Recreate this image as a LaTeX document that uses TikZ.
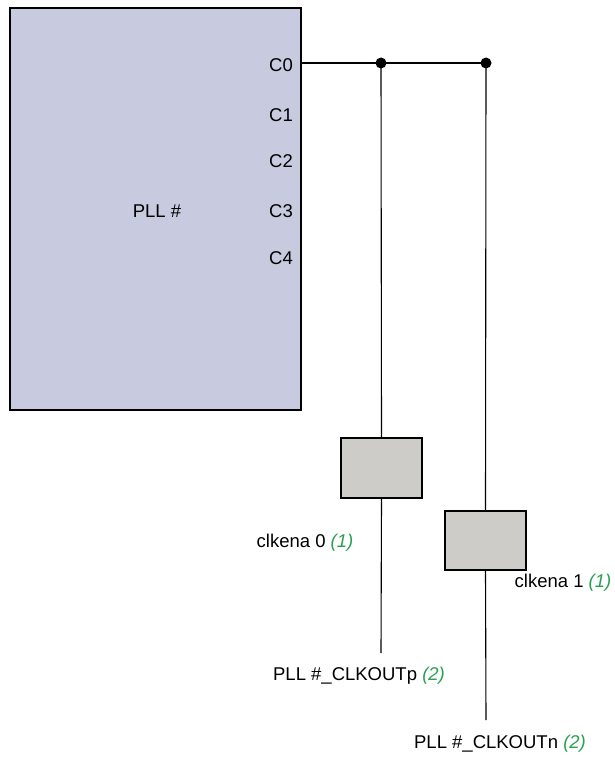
\documentclass[tikz,border=0pt]{standalone}
\usepackage{fontspec}
\setmainfont{Liberation Sans}
\usepackage{tikz}
\usetikzlibrary{positioning,calc}
\definecolor{pllfill}{HTML}{C8CADF}
\definecolor{gatefill}{HTML}{CDCCC9}
\definecolor{notegreen}{HTML}{2AA050}
\tikzset{
  pllblock/.style={draw, line width=1.1pt, fill=pllfill, minimum width=291pt,
                   minimum height=402pt, inner sep=0pt},
  gatebox/.style={draw, line width=1.1pt, fill=gatefill, minimum width=81pt,
                  minimum height=60pt, inner sep=0pt},
  pin/.style={font=\fontsize{18.5}{21}\selectfont, inner sep=0pt},
  wire/.style={line width=1.1pt},
  junction/.style={circle, fill=black, inner sep=0pt, minimum size=11pt},
}
\newcommand{\note}[1]{\textcolor{notegreen}{\textit{#1}}}
\begin{document}
\begin{tikzpicture}[x=1pt, y=-1pt]
\useasboundingbox (0,0) rectangle (614,757);
\node[pllblock] (pll) at (155.5,209) {};
\node[pin] (plllabel) at (157,211) {PLL \#};
\foreach \i/\y in {0/65,1/115,2/161,3/211,4/258}
  \node[pin] (c\i) at (281,\y) {C\i};
\node[junction] (tap0) at (381,63) {};
\node[junction] (tap1) at (486,63) {};
\node[gatebox] (gate0) at (381.5,468) {};
\node[gatebox, minimum height=59pt] (gate1) at (485.5,540.5) {};
\coordinate (out0) at (381,653);
\coordinate (out1) at (486,720);
\node[pin] (ena0) at (305,543) {clkena 0 \note{(1)}};
\node[pin] (ena1) at (563,583) {clkena 1 \note{(1)}};
\node[pin] (outp) at (359,676) {PLL \#\_CLKOUTp \note{(2)}};
\node[pin] (outn) at (500,744) {PLL \#\_CLKOUTn \note{(2)}};
\draw[wire] (pll.east |- tap0) -- (tap0.center) -- (tap1.center);
\draw[wire] (tap0.center) -- (gate0.north);
\draw[wire] (gate0.south) -- (out0);
\draw[wire] (tap1.center) -- (gate1.north);
\draw[wire] (gate1.south) -- (out1);
\end{tikzpicture}
\end{document}
